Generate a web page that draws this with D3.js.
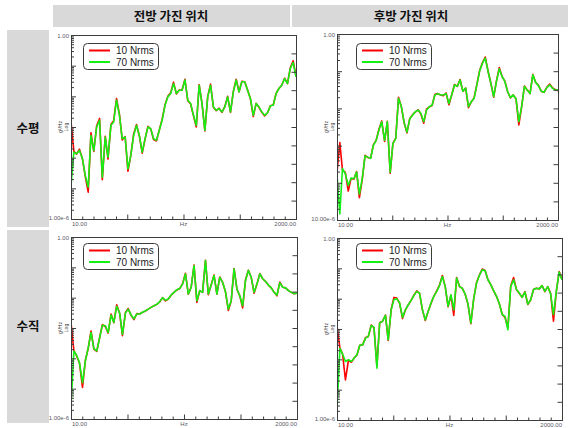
<!DOCTYPE html>
<html>
<head>
<meta charset="utf-8">
<script src="https://cdn.jsdelivr.net/npm/d3@7"></script>
<style>
  body { margin: 0; background: #fff; }
  svg { display: block; }
</style>
</head>
<body>
<svg id="chart" width="568" height="428"></svg>
<script>
// ---- labels ----
const columnTitles = ["전방 가진 위치", "후방 가진 위치"];
const rowTitles = ["수평", "수직"];
const seriesNames = ["10 Nrms", "70 Nrms"];

// ---- frequency grid (Hz) shared by all spectra ----
const freqHz = [10.0,10.7,11.4,12.2,13.1,14.0,15.0,16.0,17.1,18.3,
  19.6,20.9,22.4,23.9,25.6,27.3,29.2,31.3,33.4,35.8,
  38.2,40.9,43.7,46.8,50.0,53.5,57.2,61.2,65.4,69.9,
  74.8,80.0,85.5,91.5,97.8,104.6,111.8,119.6,127.9,136.8,
  146.3,156.4,167.3,178.9,191.2,204.5,218.7,233.9,250.1,267.4,
  286.0,305.8,327.0,349.7,374.0,399.9,427.7,457.3,489.0,523.0,
  559.2,598.0,639.5,683.9,731.3,782.0,836.3,894.3,956.3,1023,
  1094,1170,1251,1337,1430,1529,1636,1749,1870,2000];

// x-axis tick positions (Hz); every 5th is a major tick
const xTickHz = [10,13.03,16.99,22.13,28.85,37.61,49.01,63.87,83.24,108.5,141.4,
  184.3,240.2,313.0,408.0,531.8,693.0,903.2,1177,1534,2000];
const xTickLabels = ["10.00", "Hz", "2000.00"];

// ---- PSD values (g²/Hz) ----
// front excitation, horizontal
const frontHoriz10 = [1.5e-3,1.6e-4,1.3e-4,1.9e-4,9.0e-5,2.4e-5,7.5e-6,6.5e-4,1.6e-4,1.1e-3,
  1.9e-3,1.9e-5,5.0e-4,9.0e-5,1.2e-3,1.6e-3,8.5e-3,2.6e-3,3.8e-4,4.9e-4,
  3.6e-5,1.2e-4,5.8e-4,1.2e-3,5.1e-4,1.4e-4,4.0e-4,1.05e-3,8.6e-4,3.9e-4,
  3.5e-4,8.0e-4,1.8e-3,5.3e-3,1.0e-2,1.3e-2,2.9e-2,1.2e-2,1.6e-2,1.6e-2,
  3.6e-2,7.2e-3,5.6e-3,2.3e-3,1.0e-3,2.4e-2,5.9e-3,7.4e-4,9.8e-3,2.5e-2,
  4.4e-3,3.4e-3,4.1e-3,3.0e-3,4.6e-3,1.0e-2,3.0e-3,1.45e-2,3.6e-2,1.4e-2,
  3.1e-2,3.0e-2,1.6e-2,8.3e-3,2.2e-3,5.9e-3,4.4e-3,3.0e-3,2.3e-3,2.9e-3,
  4.9e-3,5.2e-3,1.25e-2,1.8e-2,2.3e-2,3.9e-2,2.6e-2,8.5e-2,0.145,4.5e-2];
const frontHoriz70 = [1.23e-5,1.52e-4,1.34e-4,1.72e-4,9.2e-5,2.6e-5,1.1e-5,5.3e-4,1.7e-4,1.0e-3,
  1.65e-3,2.3e-5,4.7e-4,1.04e-4,1.13e-3,1.46e-3,7.5e-3,2.4e-3,4.15e-4,4.7e-4,
  4.3e-5,1.18e-4,5.3e-4,1.13e-3,5.3e-4,1.52e-4,4.15e-4,1.0e-3,8.8e-4,4.15e-4,
  3.7e-4,7.8e-4,1.65e-3,5.1e-3,9.6e-3,1.23e-2,2.6e-2,1.23e-2,1.58e-2,1.58e-2,
  3.4e-2,7.5e-3,5.8e-3,2.4e-3,1.13e-3,2.3e-2,5.8e-3,7.8e-4,9.6e-3,2.3e-2,
  4.5e-3,3.5e-3,4.0e-3,3.1e-3,4.5e-3,9.6e-3,3.1e-3,1.4e-2,3.4e-2,1.4e-2,
  3.0e-2,3.0e-2,1.58e-2,8.5e-3,2.4e-3,5.8e-3,4.5e-3,3.1e-3,2.4e-3,2.9e-3,
  4.9e-3,5.1e-3,1.23e-2,1.8e-2,2.3e-2,3.8e-2,2.6e-2,8.1e-2,0.127,4.3e-2];

// rear excitation, horizontal
const rearHoriz10 = [1.9e-4,1.2e-3,2.2e-4,1.9e-4,6.0e-5,1.3e-4,1.25e-4,2.0e-4,4.0e-5,1.2e-4,
  5.5e-4,4.8e-4,4.6e-4,1.05e-3,1.4e-3,2.7e-3,4.6e-3,1.3e-3,4.5e-3,1.8e-4,
  1.15e-3,1.6e-3,2.0e-2,1.1e-2,4.1e-3,2.2e-3,5.3e-3,6.8e-3,8.0e-3,9.2e-3,
  7.0e-3,4.0e-3,9.5e-3,1.1e-2,1.2e-2,2.4e-2,2.5e-2,2.3e-2,2.2e-2,2.6e-2,
  1.25e-2,2.3e-2,4.4e-2,3.9e-2,6.0e-2,2.9e-2,3.5e-2,1.05e-2,1.5e-2,1.9e-2,
  4.4e-2,0.105,0.17,0.24,0.1,4.8e-2,2.0e-2,5.5e-2,0.125,7.3e-2,
  5.4e-2,2.8e-2,1.9e-2,2.3e-2,1.8e-2,3.6e-3,1.1e-2,4.0e-2,3.1e-2,2.5e-2,
  8.2e-2,5.0e-2,4.2e-2,2.9e-2,2.7e-2,3.7e-2,4.5e-2,3.6e-2,3.2e-2,3.0e-2];
const rearHoriz70 = [1.58e-4,1.45e-5,2.4e-4,1.75e-4,8.5e-5,1.34e-4,1.28e-4,1.94e-4,5.0e-5,1.28e-4,
  5.3e-4,4.9e-4,4.5e-4,1.02e-3,1.39e-3,2.6e-3,4.4e-3,1.39e-3,4.4e-3,1.94e-4,
  1.13e-3,1.55e-3,1.86e-2,1.11e-2,4.2e-3,2.3e-3,5.2e-3,6.6e-3,8.1e-3,9.0e-3,
  7.3e-3,4.4e-3,9.0e-3,1.11e-2,1.23e-2,2.3e-2,2.5e-2,2.3e-2,2.3e-2,2.5e-2,
  1.36e-2,2.3e-2,4.3e-2,3.9e-2,5.8e-2,2.9e-2,3.5e-2,1.11e-2,1.51e-2,1.86e-2,
  4.3e-2,0.102,0.164,0.224,0.098,4.7e-2,2.07e-2,5.3e-2,0.116,7.2e-2,
  5.3e-2,2.8e-2,1.94e-2,2.3e-2,1.79e-2,4.4e-3,1.11e-2,3.9e-2,3.1e-2,2.5e-2,
  8.0e-2,5.0e-2,4.1e-2,2.9e-2,2.7e-2,3.6e-2,4.3e-2,3.5e-2,3.1e-2,3.1e-2];

// front excitation, vertical
const frontVert10 = [1.5e-3,1.8e-4,1.2e-4,7.0e-5,1.1e-5,8.5e-5,2.2e-4,8.0e-4,2.0e-4,1.7e-4,
  5.0e-4,1.3e-3,1.1e-3,6.8e-4,2.9e-3,1.5e-3,5.8e-3,3.0e-3,5.6e-4,3.2e-3,
  4.4e-3,2.6e-3,1.9e-3,3.0e-3,2.9e-3,3.3e-3,3.6e-3,4.2e-3,4.8e-3,5.4e-3,
  6.0e-3,7.2e-3,1.0e-2,7.8e-3,9.0e-3,1.2e-2,1.5e-2,1.8e-2,2.0e-2,2.9e-2,
  6.4e-2,1.3e-2,2.2e-2,0.12,7.0e-3,1.7e-2,1.5e-2,0.17,1.25e-2,2.6e-2,
  5.6e-2,1.3e-2,4.8e-2,3.2e-2,1.55e-2,3.8e-3,7.8e-3,9.2e-2,1.9e-2,1.15e-2,
  4.6e-3,3.8e-2,8.0e-2,4.7e-2,1.4e-2,2.8e-2,6.2e-2,4.2e-2,3.4e-2,2.6e-2,
  2.1e-2,1.5e-2,1.15e-2,3.3e-2,2.2e-2,2.1e-2,1.7e-2,1.5e-2,1.35e-2,1.4e-2];
const frontVert70 = [2.6e-6,1.75e-4,1.26e-4,7.2e-5,1.56e-5,8.2e-5,2.3e-4,7.1e-4,2.1e-4,1.75e-4,
  4.8e-4,1.24e-3,1.18e-3,7.1e-4,2.7e-3,1.52e-3,5.2e-3,3.1e-3,6.2e-4,3.1e-3,
  4.2e-3,2.7e-3,2.0e-3,2.9e-3,2.9e-3,3.3e-3,3.7e-3,4.2e-3,4.8e-3,5.4e-3,
  6.0e-3,7.4e-3,1.0e-2,8.2e-3,9.0e-3,1.22e-2,1.5e-2,1.84e-2,2.0e-2,2.8e-2,
  6.1e-2,1.32e-2,2.2e-2,0.115,7.9e-3,1.7e-2,1.5e-2,0.168,1.32e-2,2.6e-2,
  5.4e-2,1.32e-2,4.7e-2,3.2e-2,1.58e-2,4.2e-3,7.9e-3,8.9e-2,1.94e-2,1.16e-2,
  5.4e-3,3.7e-2,7.9e-2,4.7e-2,1.5e-2,2.8e-2,6.1e-2,4.2e-2,3.4e-2,2.6e-2,
  2.1e-2,1.5e-2,1.22e-2,3.1e-2,2.2e-2,2.1e-2,1.7e-2,1.5e-2,1.36e-2,1.4e-2];

// rear excitation, vertical
const rearVert10 = [1.3e-3,2.4e-4,1.5e-4,2.1e-5,9.5e-5,8.0e-5,1.1e-4,1.4e-4,2.9e-4,3.0e-4,
  5.2e-4,5.6e-4,1.35e-3,1.1e-3,6.0e-5,1.6e-3,1.8e-3,2.9e-3,4.2e-4,4.4e-3,
  1.1e-2,1.05e-2,7.0e-3,2.2e-3,4.2e-3,6.2e-3,8.8e-3,1.3e-2,1.8e-2,1.5e-2,
  4.2e-3,1.9e-3,3.8e-3,7.0e-3,1.2e-2,1.8e-2,2.8e-2,5.8e-2,2.5e-2,5.4e-3,
  1.3e-2,2.8e-3,5.0e-2,2.5e-2,2.2e-2,1.4e-2,6.5e-3,1.5e-3,1.0e-2,3.4e-2,
  6.0e-2,9.5e-2,8.5e-2,4.2e-2,2.9e-2,1.8e-2,1.2e-2,6.8e-3,3.0e-3,2.4e-3,
  1.1e-3,2.6e-2,5.0e-2,2.0e-2,1.5e-2,1.1e-2,1.7e-2,6.4e-3,9.2e-3,2.0e-2,
  2.2e-2,2.1e-2,2.7e-2,1.7e-2,2.5e-2,1.5e-2,1.8e-3,1.7e-2,7.8e-2,4.3e-2];
const rearVert70 = [2.2e-6,2.3e-4,1.49e-4,8.5e-5,9.7e-5,8.5e-5,1.1e-4,1.41e-4,2.9e-4,3.0e-4,
  5.0e-4,5.7e-4,1.31e-3,1.13e-3,5.1e-5,1.57e-3,1.78e-3,2.8e-3,4.4e-4,4.3e-3,
  9.2e-3,1.0e-2,7.2e-3,2.4e-3,4.3e-3,6.3e-3,8.6e-3,1.28e-2,1.74e-2,1.53e-2,
  4.3e-3,2.0e-3,3.8e-3,7.2e-3,1.19e-2,1.74e-2,2.7e-2,5.4e-2,2.5e-2,5.6e-3,
  1.35e-2,4.3e-3,4.8e-2,2.5e-2,2.2e-2,1.42e-2,6.6e-3,1.57e-3,1.0e-2,3.3e-2,
  5.9e-2,9.0e-2,8.4e-2,4.2e-2,2.9e-2,1.83e-2,1.19e-2,6.8e-3,3.0e-3,2.6e-3,
  9.4e-4,2.5e-2,4.2e-2,2.0e-2,1.53e-2,1.1e-2,1.65e-2,6.6e-3,9.2e-3,2.0e-2,
  2.2e-2,2.1e-2,2.7e-2,1.74e-2,2.5e-2,1.46e-2,3.0e-3,1.74e-2,7.6e-2,4.2e-2];

// y-axis range per panel (g²/Hz) and the end labels printed on it
const yRanges = [[1e-6, 1], [1e-5, 1], [1e-6, 1], [1e-6, 1]];
const yEndLabels = [["1.00", "1.00e-6"], ["1.00", "10.00e-6"], ["1.00", "1.00e-6"], ["1.00", "1.00e-6"]];

// ---- layout ----
const FONT_UI = "'Liberation Sans', Arial, sans-serif";
const FONT_KR = "'Noto Sans CJK KR', 'Noto Sans', sans-serif";
const GRAY = "#d9d9d9";
const LINE_COLORS = ["#ff0000", "#14f014"];
const FRAME = "#3c3c3c";

const svg = d3.select("#chart");

// column headers
const headerBoxes = [{ x: 53, w: 237, cx: 171 }, { x: 292, w: 276, cx: 411 }];
headerBoxes.forEach((h, i) => {
  svg.append("rect").attr("x", h.x).attr("y", 5).attr("width", h.w).attr("height", 22).attr("fill", GRAY);
  svg.append("text").attr("x", h.cx).attr("y", 20.5).attr("text-anchor", "middle")
    .attr("font-family", FONT_KR).attr("font-weight", 700).attr("font-size", 12.5).attr("fill", "#111")
    .text(columnTitles[i]);
});

// row headers
const rowBoxes = [{ y: 30, h: 197 }, { y: 230, h: 193 }];
rowBoxes.forEach((r, i) => {
  svg.append("rect").attr("x", 7).attr("y", r.y).attr("width", 42).attr("height", r.h).attr("fill", GRAY);
  svg.append("text").attr("x", 28).attr("y", r.y + r.h / 2 + 4.5).attr("text-anchor", "middle")
    .attr("font-family", FONT_KR).attr("font-weight", 700).attr("font-size", 12.5).attr("fill", "#111")
    .text(rowTitles[i]);
});

const panels = [
  { x0: 71, x1: 296, y0: 35, y1: 219, lx: 83, ly: 43, low: frontHoriz10, high: frontHoriz70 },
  { x0: 337, x1: 558, y0: 34, y1: 220, lx: 356, ly: 43, low: rearHoriz10, high: rearHoriz70 },
  { x0: 71, x1: 297, y0: 237, y1: 419, lx: 83, ly: 243, low: frontVert10, high: frontVert70 },
  { x0: 337, x1: 562, y0: 238, y1: 420, lx: 356, ly: 243, low: rearVert10, high: rearVert70 }
];

function tinyText(g, x, y, str, anchor) {
  return g.append("text").attr("x", x).attr("y", y).attr("text-anchor", anchor || "start")
    .attr("font-family", FONT_UI).attr("font-size", 6).attr("fill", "#5a5a66").text(str);
}

panels.forEach((p, pi) => {
  const g = svg.append("g");
  const x = d3.scaleLog().domain([10, 2000]).range([p.x0, p.x1]);
  const y = d3.scaleLog().domain(yRanges[pi]).range([p.y1, p.y0]);

  const clipId = "clip" + pi;
  g.append("clipPath").attr("id", clipId).append("rect")
    .attr("x", p.x0).attr("y", p.y0).attr("width", p.x1 - p.x0).attr("height", p.y1 - p.y0);

  g.append("rect").attr("x", p.x0).attr("y", p.y0).attr("width", p.x1 - p.x0).attr("height", p.y1 - p.y0)
    .attr("fill", "#fff");

  const line = d3.line().x((d, i) => x(freqHz[i])).y(d => y(d));
  [p.low, p.high].forEach((vals, k) => {
    g.append("path").datum(vals).attr("d", line).attr("clip-path", `url(#${clipId})`)
      .attr("fill", "none").attr("stroke", LINE_COLORS[k]).attr("stroke-width", 1.6)
      .attr("stroke-linejoin", "round");
  });

  // frame
  g.append("rect").attr("x", p.x0 + 0.5).attr("y", p.y0 + 0.5)
    .attr("width", p.x1 - p.x0).attr("height", p.y1 - p.y0)
    .attr("fill", "none").attr("stroke", FRAME).attr("stroke-width", 1);

  const styleAxis = sel => {
    sel.select(".domain").remove();
    sel.selectAll("line").attr("stroke", FRAME);
  };

  // left log axis: decades long, sub-decade ticks short
  const yt = y.ticks();
  const isDecade = v => Math.abs(Math.log10(v) - Math.round(Math.log10(v))) < 1e-9;
  g.append("g").attr("transform", `translate(${p.x0 + 0.5},0)`)
    .call(d3.axisRight(y).tickValues(yt.filter(v => !isDecade(v))).tickSize(2.5).tickFormat(""))
    .call(styleAxis);
  g.append("g").attr("transform", `translate(${p.x0 + 0.5},0)`)
    .call(d3.axisRight(y).tickValues(yt.filter(isDecade)).tickSize(4.5).tickFormat(""))
    .call(styleAxis);

  // bottom frequency axis
  g.append("g").attr("transform", `translate(0,${p.y1 + 0.5})`)
    .call(d3.axisTop(x).tickValues(xTickHz.filter((v, i) => i % 5 !== 0)).tickSize(3).tickFormat(""))
    .call(styleAxis);
  g.append("g").attr("transform", `translate(0,${p.y1 + 0.5})`)
    .call(d3.axisTop(x).tickValues(xTickHz.filter((v, i) => i % 5 === 0)).tickSize(5).tickFormat(""))
    .call(styleAxis);

  // right-hand reference axis
  const r = d3.scaleLinear().domain([0, 10]).range([p.y1, p.y0]);
  g.append("g").attr("transform", `translate(${p.x1 + 0.5},0)`)
    .call(d3.axisLeft(r).ticks(10).tickSize(5).tickFormat(""))
    .call(styleAxis);

  // axis end labels
  tinyText(g, p.x0 - 2, p.y0 + 2.5, yEndLabels[pi][0], "end");
  tinyText(g, p.x0 - 2, p.y1 + 1, yEndLabels[pi][1], "end");
  tinyText(g, p.x0 + 1, p.y1 + 7, xTickLabels[0], "start");
  tinyText(g, x(xTickHz[10]), p.y1 + 7, xTickLabels[1], "middle");
  tinyText(g, p.x1, p.y1 + 7, xTickLabels[2], "end");

  const midY = (p.y0 + p.y1) / 2;
  g.append("text").attr("transform", `translate(${p.x0 - 9},${midY}) rotate(-90)`)
    .attr("text-anchor", "middle").attr("font-family", FONT_UI).attr("font-size", 5)
    .attr("fill", "#333").text("g²/Hz");
  g.append("text").attr("transform", `translate(${p.x0 - 3},${midY}) rotate(-90)`)
    .attr("text-anchor", "middle").attr("font-family", FONT_UI).attr("font-size", 5)
    .attr("fill", "#333").text("Log");

  // legend
  const lg = g.append("g").attr("transform", `translate(${p.lx},${p.ly})`);
  lg.append("rect").attr("x", 0.5).attr("y", 0.5).attr("width", 75).attr("height", 26).attr("rx", 4)
    .attr("fill", "#fff").attr("stroke", FRAME).attr("stroke-width", 1);
  seriesNames.forEach((name, k) => {
    const cy = 7.5 + k * 11.5;
    lg.append("line").attr("x1", 6).attr("x2", 27).attr("y1", cy).attr("y2", cy)
      .attr("stroke", LINE_COLORS[k]).attr("stroke-width", 2);
    lg.append("text").attr("x", 33).attr("y", cy + 3.5)
      .attr("font-family", FONT_UI).attr("font-size", 10).attr("fill", "#222").text(name);
  });
});
</script>
</body>
</html>
